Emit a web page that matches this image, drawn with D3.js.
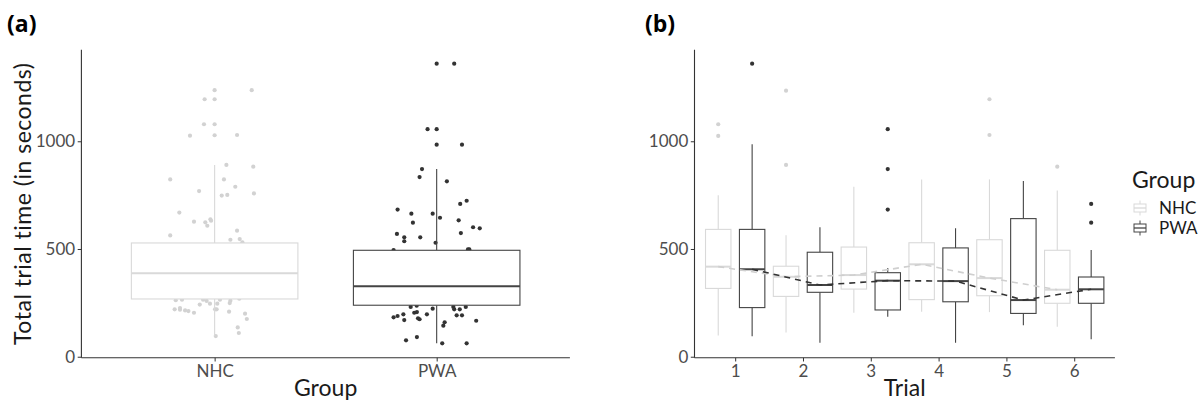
<!DOCTYPE html>
<html>
<head>
<meta charset="utf-8">
<script src="https://cdn.jsdelivr.net/npm/d3@7/dist/d3.min.js"></script>
<style>
body{margin:0;background:#fff}
text{font-family:Lato,"Open Sans",sans-serif}
</style>
</head>
<body>
<div id="chart"></div>
<script>

// ---- panel (a): total trial time by group ----
var groups = ["NHC", "PWA"];
var boxLoA  = [96, 62];
var boxQ1A  = [268, 239];
var boxMedA = [387, 327];
var boxQ3A  = [528, 494];
var boxHiA  = [890, 871];

// jittered raw points (value, jitter offset in category units)
var nhcVals = [1237,1237,1195,1195,1079,1079,1026,1028,1029,890,882,823,823,789,769,748,751,758,669,627,624,608,638,631,563,585,543,546,531,
  262,265,265,259,246,242,246,265,260,249,269,220,226,218,215,212,204,220,220,209,200,175,136,110,96];
var nhcJit = [0,0.167,-0.045,0,-0.048,0,-0.111,0,0.101,0.053,0.174,-0.2,0.042,0.093,-0.07,0.032,0.057,0.177,-0.159,-0.093,-0.042,-0.033,-0.019,-0.016,-0.2,0.101,0.071,0.113,0.125,
  -0.175,-0.147,-0.052,-0.036,-0.021,-0.067,0.012,0.024,0.071,0.068,0.111,-0.18,-0.156,-0.156,-0.133,-0.118,-0.093,0.002,0.009,0.065,0.137,0.145,0.104,0.109,0.005];
var pwaVals = [1360,1360,1056,1056,984,984,871,834,814,724,709,683,664,664,645,633,622,601,596,570,574,554,536,554,529,495,498,498,
  231,237,223,231,220,220,231,183,189,197,170,204,207,178,174,197,192,192,160,144,167,76,91,62,62];
var pwaJit = [0,0.079,-0.041,0,0,0.114,-0.066,-0.077,0.046,0.135,0.106,-0.176,-0.114,-0.018,0.015,0.099,-0.107,0.164,0.194,-0.179,0.109,-0.146,-0.146,-0.074,-0.005,-0.194,0.141,0.147,
  -0.117,-0.09,-0.018,0.075,0.079,0.104,0.131,-0.194,-0.176,-0.15,-0.146,-0.101,-0.089,-0.084,-0.077,-0.044,0.09,0.114,0.036,0.03,0.178,-0.138,-0.089,0.025,0.135];

// ---- panel (b): by trial ----
var trials = [1, 2, 3, 4, 5, 6];
var nhcLo  = [99, 113, 204, 209, 207, 139];
var nhcQ1  = [317, 280, 314, 265, 283, 248];
var nhcMed = [418, 371, 379, 429, 365, 311];
var nhcQ3  = [591, 420, 509, 529, 543, 494];
var nhcHi  = [749, 564, 789, 823, 823, 771];
var pwaLo  = [95, 65, 186, 65, 146, 81];
var pwaQ1  = [228, 299, 217, 255, 201, 248];
var pwaMed = [406, 333, 353, 351, 263, 313];
var pwaQ3  = [591, 485, 390, 505, 641, 370];
var pwaHi  = [986, 601, 412, 596, 816, 495];
var nhcOutTrial = [1, 1, 2, 2, 5, 5, 6];
var nhcOutVal   = [1079, 1025, 1235, 890, 1195, 1029, 882];
var pwaOutTrial = [1, 3, 3, 3, 6, 6];
var pwaOutVal   = [1360, 1056, 871, 683, 709, 622];

var yTicks = [0, 500, 1000];

var W = 1202, H = 404;
var colNHC = "#d2d2d2", colPWA = "#333333";
var colNHCbox = "#d9d9d9", colPWAbox = "#444444";

var svg = d3.select("#chart").append("svg")
  .attr("width", W).attr("height", H);
svg.append("rect").attr("width", W).attr("height", H).attr("fill", "#fff");

var y = d3.scaleLinear().domain([-5, 1425]).range([357.8, 49.7]);

function drawBox(g, cx, hw, lo, q1, med, q3, hi, col) {
  g.append("line").attr("x1", cx).attr("x2", cx).attr("y1", y(hi)).attr("y2", y(q3))
    .attr("stroke", col).attr("stroke-width", 1.1);
  g.append("line").attr("x1", cx).attr("x2", cx).attr("y1", y(q1)).attr("y2", y(lo))
    .attr("stroke", col).attr("stroke-width", 1.1);
  g.append("rect").attr("x", cx - hw).attr("y", y(q3)).attr("width", hw * 2).attr("height", y(q1) - y(q3))
    .attr("fill", "#fff").attr("stroke", col).attr("stroke-width", 1.1);
  g.append("line").attr("x1", cx - hw).attr("x2", cx + hw).attr("y1", y(med)).attr("y2", y(med))
    .attr("stroke", col).attr("stroke-width", 2);
}

function yAxis(left) {
  var ax = svg.append("g").attr("transform", "translate(" + left + ",0)")
    .call(d3.axisLeft(y).tickValues(yTicks).tickSize(3.7).tickPadding(2.5).tickFormat(d3.format("d")));
  ax.select(".domain").attr("stroke", "#333").attr("stroke-width", 1.1).attr("d", "M0," + y(1425) + "V" + y(-5));
  ax.selectAll(".tick line").attr("stroke", "#333");
  ax.selectAll("text").attr("fill", "#4d4d4d").style("font-size", "17px").style("font-family", "Lato");
  return ax;
}

// ---------- panel (a) ----------
var xa = d3.scaleLinear().domain([0.4, 2.6]).range([81.4, 569.9]);
var ga = svg.append("g");

ga.selectAll("circle.nhc").data(nhcVals).enter().append("circle")
  .attr("cx", function(d, i) { return xa(1 + nhcJit[i]); })
  .attr("cy", function(d) { return y(d); })
  .attr("r", 2.1).attr("fill", colNHC);
ga.selectAll("circle.pwa").data(pwaVals).enter().append("circle")
  .attr("cx", function(d, i) { return xa(2 + pwaJit[i]); })
  .attr("cy", function(d) { return y(d); })
  .attr("r", 2.1).attr("fill", colPWA);

groups.forEach(function(g, i) {
  var hw = (xa(1.375) - xa(1));
  drawBox(ga, xa(i + 1), hw, boxLoA[i], boxQ1A[i], boxMedA[i], boxQ3A[i], boxHiA[i],
    i == 0 ? colNHCbox : colPWAbox);
});

yAxis(81.4);
var axA = svg.append("g").attr("transform", "translate(0," + y(-5) + ")")
  .call(d3.axisBottom(xa).tickValues([1, 2]).tickSize(3.7).tickPadding(3)
    .tickFormat(function(d) { return groups[d - 1]; }));
axA.select(".domain").attr("stroke", "#333").attr("stroke-width", 1.1).attr("d", "M" + xa(0.4) + ",0H" + xa(2.6));
axA.selectAll(".tick line").attr("stroke", "#333");
axA.selectAll("text").attr("fill", "#4d4d4d").style("font-size", "17px").style("font-family", "Lato");

svg.append("text").attr("x", (xa(0.4) + xa(2.6)) / 2).attr("y", 396)
  .attr("text-anchor", "middle").style("font-size", "23px").attr("fill", "#1a1a1a").text("Group");
svg.append("text").attr("transform", "translate(31," + (y(-5) + y(1425)) / 2 + ") rotate(-90)")
  .attr("text-anchor", "middle").style("font-size", "23px").style("letter-spacing", "0.5px")
  .attr("fill", "#1a1a1a").text("Total trial time (in seconds)");
svg.append("text").attr("x", 7).attr("y", 32).style("font-family", "'Open Sans'")
  .style("font-weight", "bold").style("font-size", "23px").attr("fill", "#000").text("(a)");

// ---------- panel (b) ----------
var xb = d3.scaleLinear().domain([0.4, 6.6]).range([694.5, 1114.9]);
var gb = svg.append("g");
var off = 0.25, bw = 0.1875;
var hwb = xb(1 + bw) - xb(1);

trials.forEach(function(t, i) {
  drawBox(gb, xb(t - off), hwb, nhcLo[i], nhcQ1[i], nhcMed[i], nhcQ3[i], nhcHi[i], colNHCbox);
  drawBox(gb, xb(t + off), hwb, pwaLo[i], pwaQ1[i], pwaMed[i], pwaQ3[i], pwaHi[i], colPWAbox);
});

gb.selectAll("circle.on").data(nhcOutVal).enter().append("circle")
  .attr("cx", function(d, i) { return xb(nhcOutTrial[i] - off); })
  .attr("cy", function(d) { return y(d); })
  .attr("r", 2.1).attr("fill", colNHC);
gb.selectAll("circle.op").data(pwaOutVal).enter().append("circle")
  .attr("cx", function(d, i) { return xb(pwaOutTrial[i] + off); })
  .attr("cy", function(d) { return y(d); })
  .attr("r", 2.1).attr("fill", colPWA);

var lineN = d3.line().x(function(d, i) { return xb(trials[i] - off); }).y(function(d) { return y(d); });
var lineP = d3.line().x(function(d, i) { return xb(trials[i] + off); }).y(function(d) { return y(d); });
gb.append("path").attr("d", lineN(nhcMed)).attr("fill", "none").attr("stroke", "#cfcfcf")
  .attr("stroke-width", 1.6).attr("stroke-dasharray", "6,5");
gb.append("path").attr("d", lineP(pwaMed)).attr("fill", "none").attr("stroke", "#333")
  .attr("stroke-width", 1.6).attr("stroke-dasharray", "6,5");

yAxis(694.5);
var axB = svg.append("g").attr("transform", "translate(0," + y(-5) + ")")
  .call(d3.axisBottom(xb).tickValues(trials).tickSize(3.7).tickPadding(3).tickFormat(d3.format("d")));
axB.select(".domain").attr("stroke", "#333").attr("stroke-width", 1.1).attr("d", "M" + xb(0.4) + ",0H" + xb(6.6));
axB.selectAll(".tick line").attr("stroke", "#333");
axB.selectAll("text").attr("fill", "#4d4d4d").style("font-size", "17px").style("font-family", "Lato");

svg.append("text").attr("x", (xb(0.4) + xb(6.6)) / 2).attr("y", 396)
  .attr("text-anchor", "middle").style("font-size", "23px").attr("fill", "#1a1a1a").text("Trial");
svg.append("text").attr("x", 645).attr("y", 32).style("font-family", "'Open Sans'")
  .style("font-weight", "bold").style("font-size", "23px").attr("fill", "#000").text("(b)");

// ---------- legend ----------
var lg = svg.append("g").attr("transform", "translate(1131,0)");
lg.append("text").attr("x", 1).attr("y", 188).style("font-size", "23px").attr("fill", "#1a1a1a").text("Group");
groups.forEach(function(g, i) {
  var cy = 208 + i * 20, cx = 9;
  var col = i == 0 ? colNHCbox : colPWAbox;
  lg.append("line").attr("x1", cx).attr("x2", cx).attr("y1", cy - 7.5).attr("y2", cy + 7.5)
    .attr("stroke", col).attr("stroke-width", 1);
  lg.append("rect").attr("x", cx - 6).attr("y", cy - 4).attr("width", 12).attr("height", 8)
    .attr("fill", "#fff").attr("stroke", col).attr("stroke-width", 1);
  lg.append("line").attr("x1", cx - 6).attr("x2", cx + 6).attr("y1", cy).attr("y2", cy)
    .attr("stroke", col).attr("stroke-width", 1.3);
  lg.append("text").attr("x", 28).attr("y", cy).attr("dy", "0.36em")
    .style("font-size", "17px").attr("fill", "#1a1a1a").text(g);
});
</script>
</body>
</html>
